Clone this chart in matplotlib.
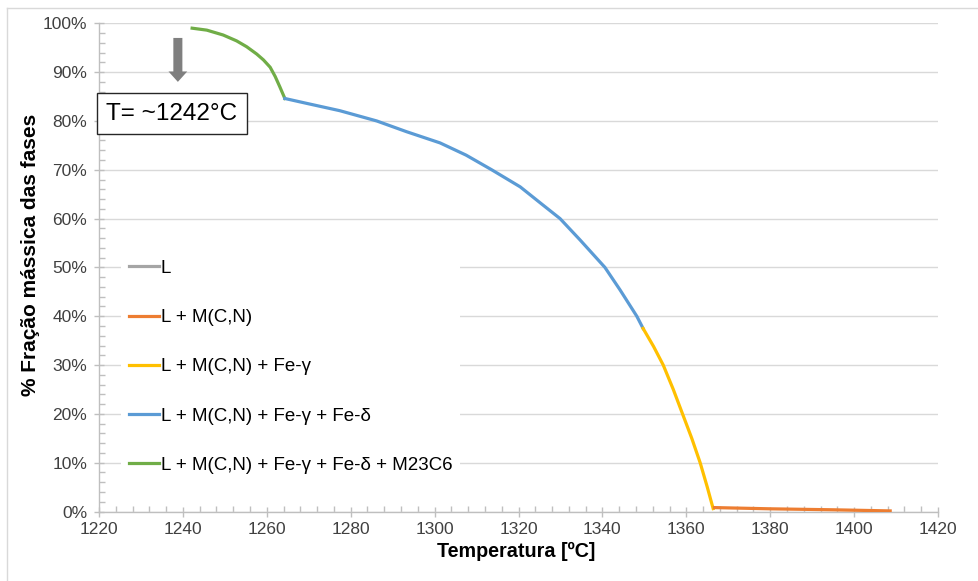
import matplotlib
matplotlib.use("Agg")
from matplotlib import pyplot as plt
from matplotlib.ticker import MultipleLocator, FuncFormatter
from matplotlib.lines import Line2D

plt.rcParams['font.family'] = ['Liberation Sans', 'DejaVu Sans']

# fase data (temperatura [C], fracao massica [%])
T_green = [1242.2, 1245.7, 1249.6, 1252.8, 1255.2, 1257.6, 1259.2, 1260.8,
           1262.0, 1263.1, 1264.3]
f_green = [99.0, 98.6, 97.6, 96.4, 95.2, 93.7, 92.5, 91.0,
           89.1, 87.0, 84.6]

T_blue = [1264.3, 1269.5, 1277.4, 1286.2, 1293.3, 1301.3, 1307.5, 1313.6,
          1320.4, 1325.5, 1329.9, 1334.7, 1340.6, 1344.2, 1348.2, 1349.7]
f_blue = [84.6, 83.6, 82.1, 80.0, 77.8, 75.5, 73.0, 70.0,
          66.5, 63.0, 60.0, 55.6, 50.0, 45.4, 40.0, 37.5]

T_yellow = [1349.7, 1352.2, 1354.5, 1356.9, 1359.1, 1361.3, 1363.3, 1365.0, 1366.4]
f_yellow = [37.5, 33.8, 30.0, 25.0, 20.0, 15.0, 10.0, 5.0, 0.6]

T_orange = [1366.7, 1380.0, 1395.0, 1408.6]
f_orange = [0.8, 0.55, 0.35, 0.12]

labels = ['L', 'L + M(C,N)', 'L + M(C,N) + Fe-γ',
          'L + M(C,N) + Fe-γ + Fe-δ', 'L + M(C,N) + Fe-γ + Fe-δ + M23C6']
colors = ['#A5A5A5', '#ED7D31', '#FFC000', '#5B9BD5', '#70AD47']

W, H = 979, 581
fig = plt.figure(figsize=(W/100, H/100), dpi=100)
ax = fig.add_axes([99/W, 1-511.5/H, (938-99)/W, (511.5-23.3)/H])

lw = 2.3
ax.plot(T_green, f_green, color=colors[4], lw=lw, solid_joinstyle='round', zorder=3)
ax.plot(T_blue, f_blue, color=colors[3], lw=lw, solid_joinstyle='round', zorder=3)
ax.plot(T_yellow, f_yellow, color=colors[2], lw=lw, solid_joinstyle='round', zorder=3)
ax.plot(T_orange, f_orange, color=colors[1], lw=lw, solid_joinstyle='round', zorder=3)

ax.set_xlim(1220, 1420)
ax.set_ylim(0, 100)
ax.xaxis.set_major_locator(MultipleLocator(20))
ax.xaxis.set_minor_locator(MultipleLocator(4))
ax.yaxis.set_major_locator(MultipleLocator(10))
ax.yaxis.set_minor_locator(MultipleLocator(2))
ax.yaxis.set_major_formatter(FuncFormatter(lambda v, p: '%d%%' % v))

ax.grid(axis='y', which='major', color='#D9D9D9', lw=1.0)
ax.set_axisbelow(True)
for s in ['top', 'right']:
    ax.spines[s].set_visible(False)
for s in ['left', 'bottom']:
    ax.spines[s].set_color('#BFBFBF')
    ax.spines[s].set_linewidth(1.0)

ax.tick_params(which='major', direction='inout', length=7, width=1, color='#BFBFBF',
               labelsize=12.5, labelcolor='#404040')
ax.tick_params(which='minor', direction='in', length=4, width=1, color='#BFBFBF')
ax.tick_params(axis='x', which='major', pad=4)
ax.tick_params(axis='y', which='major', pad=5)

fig.text(516.5/W, 1-551/H, 'Temperatura [ºC]', ha='center', va='center',
         fontsize=14.2, fontweight='bold')
fig.text(31/W, 1-254.5/H, '% Fração mássica das fases', ha='center', va='center',
         rotation=90, fontsize=15, fontweight='bold')

# legend
handles = [Line2D([], [], color=c, lw=lw) for c in colors]
leg = ax.legend(handles, labels, loc='upper left', bbox_to_anchor=(0.0155, 0.55),
                fontsize=13.5, frameon=True, fancybox=False, edgecolor='none',
                facecolor='white', framealpha=1, handlelength=1.6,
                handletextpad=0.1, labelspacing=1.71, borderpad=0.4)

# annotation
ax.annotate('', xy=(1238.8, 88.0), xytext=(1238.8, 97.0),
            arrowprops=dict(arrowstyle='simple,head_width=1.35,head_length=0.75,tail_width=0.65',
                            color='#7F7F7F', lw=0, shrinkA=0, shrinkB=0))
fig.text(172/W, 1-113.5/H, 'T= ~1242°C', ha='center', va='center', fontsize=17.5,
         bbox=dict(boxstyle='square,pad=0.4', facecolor='white', edgecolor='#262626', lw=1))

# chart border
fig.add_artist(Line2D([7/W, 7/W], [0, 1-8/H], color='#D9D9D9', lw=1))
fig.add_artist(Line2D([7/W, 1], [1-8/H, 1-8/H], color='#D9D9D9', lw=1))

fig.savefig('out.png', dpi=100)
